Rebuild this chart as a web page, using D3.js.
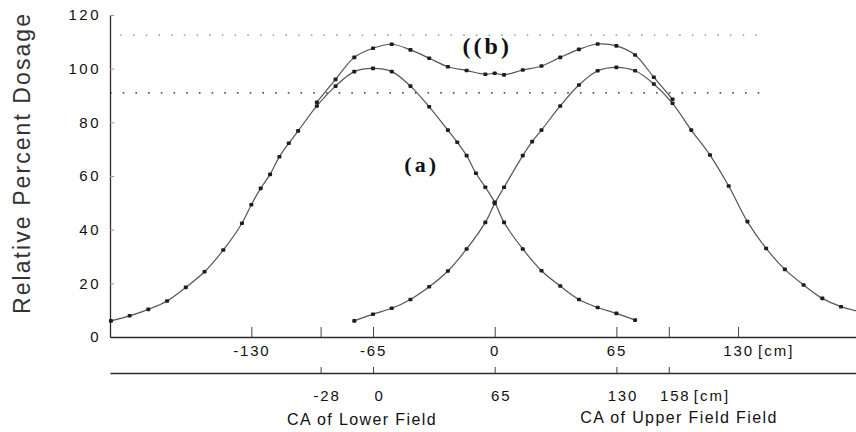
<!DOCTYPE html>
<html><head><meta charset="utf-8">
<script src="https://cdn.jsdelivr.net/npm/d3@7"></script>
<style>body{margin:0;background:#fff} svg{display:block}</style>
</head><body>
<svg id="c" width="856" height="432"></svg>
<script>
// ---- data (cm on the upper scale, relative percent dosage) ----
const lowerFieldX = [-205,-195,-185,-175,-165,-155,-145,-135,-130,-125,-120,-115,-110,-105,-95,-85,-75,-65,-55,-45,-35,-25,-20,-15,-10,-5,0,5,15,25,35,45,55,65,75];
const lowerFieldY = [6.0,7.9,10.3,13.4,18.5,24.3,32.4,42.4,49.3,55.4,60.6,67.2,72.2,76.8,86.1,93.5,98.9,100.1,98.9,93.5,85.8,77.1,72.6,67.6,61.0,55.8,50.2,42.7,32.8,24.7,19.0,14.0,11.0,8.8,6.3];
const upperFieldX = [-75,-65,-55,-45,-35,-25,-15,-5,0,5,15,20,25,35,45,55,65,75,85,95,105,115,125,135,145,155,165,175,185,195];
const upperFieldY = [6.0,8.5,10.7,14.0,18.7,24.6,32.8,42.7,49.8,55.8,67.6,72.8,77.1,86.1,93.9,99.2,100.5,99.2,94.3,87.1,77.1,67.8,56.3,43.0,33.0,25.2,19.4,14.4,11.3,9.4];
const sumX = [-95,-85,-75,-65,-55,-45,-35,-25,-15,-5,0,5,15,25,35,45,55,65,75,85,95];
const sumY = [87.5,96.0,104.2,107.6,109.1,107.0,103.9,100.7,99.3,97.9,98.3,97.7,99.5,101.0,104.2,107.2,109.2,108.5,105.1,96.8,88.6];
const refLineValues = [112.5, 91];
const yTicks = [0,20,40,60,80,100,120];
const upperTickValues = [-130,-93,-65,0,65,93,130];
const upperTickLabels = [-130,-65,0,65,130];
const lowerTickValues = [-28,0,65,130,158];
const yLabel = "Relative Percent Dosage";
const lowerCaption = "CA of Lower Field";
const upperCaption = "CA of Upper Field Field";

// ---- scales ----
const mLeft = 110, mRight = 856, mTop = 15, mBottom = 337, lowerAxisY = 373;
const xDomain = [-205.5, 193];
const x = d3.scaleLinear().domain(xDomain).range([mLeft, mRight]);
const xLow = d3.scaleLinear().domain([xDomain[0] + 65, xDomain[1] + 65]).range([mLeft, mRight]);
const y = d3.scaleLinear().domain([0, 120]).range([mBottom, mTop]);

const svg = d3.select("#c");
const sans = "'Liberation Sans', Arial, sans-serif";
const serif = "'Liberation Serif', 'Times New Roman', serif";
const ink = "#2a2a2a";

// reference dotted lines
const refStarts = [-200, -205.5];
refLineValues.forEach((v, i) => {
  svg.append("line")
    .attr("x1", x(refStarts[i])).attr("x2", x(145.5))
    .attr("y1", y(v)).attr("y2", y(v))
    .attr("stroke", i === 0 ? "#888" : "#555")
    .attr("stroke-width", i === 0 ? 1.4 : 1.8)
    .attr("stroke-dasharray", "1.6,11.1")
    .attr("stroke-linecap", "butt");
});

// y axis
const gy = svg.append("g").attr("transform", `translate(${mLeft},0)`)
  .call(d3.axisLeft(y).tickValues(yTicks).tickFormat(d => String(d))
    .tickSizeInner(-4).tickSizeOuter(0).tickPadding(9));
gy.select(".domain").attr("stroke", ink).attr("stroke-width", 1.3);
gy.selectAll(".tick line").attr("stroke", "#999");
gy.selectAll(".tick text").attr("font-family", sans).attr("font-size", 15)
  .attr("letter-spacing", 2.5).attr("fill", "#111");

// upper x axis
const gx = svg.append("g").attr("transform", `translate(0,${mBottom})`)
  .call(d3.axisBottom(x).tickValues(upperTickValues)
    .tickFormat(d => upperTickLabels.includes(d) ? String(d) : "")
    .tickSizeInner(-10).tickSizeOuter(0).tickPadding(8));
gx.select(".domain").attr("stroke", ink).attr("stroke-width", 1.6);
gx.selectAll(".tick line").attr("stroke", "#444").attr("stroke-width", 1);
gx.selectAll(".tick text").attr("font-family", sans).attr("font-size", 15)
  .attr("letter-spacing", 1.8).attr("fill", "#111");
svg.append("text").attr("x", x(130) + 20).attr("y", mBottom + 19)
  .attr("font-family", sans).attr("font-size", 15).attr("letter-spacing", 2)
  .attr("fill", "#111").text("[cm]");

// lower x axis
const gl = svg.append("g").attr("transform", `translate(0,${lowerAxisY})`)
  .call(d3.axisBottom(xLow).tickValues(lowerTickValues).tickFormat(d => String(d))
    .tickSizeInner(-6).tickSizeOuter(0).tickPadding(17));
gl.select(".domain").attr("stroke", ink).attr("stroke-width", 1.6);
gl.selectAll(".tick line").attr("stroke", "#444");
gl.selectAll(".tick text").attr("font-family", sans).attr("font-size", 15)
  .attr("letter-spacing", 1.8).attr("fill", "#111").attr("dx", 6);
svg.append("text").attr("x", xLow(158) + 25).attr("y", lowerAxisY + 28)
  .attr("font-family", sans).attr("font-size", 15).attr("letter-spacing", 2)
  .attr("fill", "#111").text("[cm]");

svg.append("text").attr("x", 362).attr("y", 425).attr("text-anchor", "middle")
  .attr("font-family", sans).attr("font-size", 16).attr("letter-spacing", 1.4)
  .attr("fill", "#111").text(lowerCaption);
svg.append("text").attr("x", 679).attr("y", 423).attr("text-anchor", "middle")
  .attr("font-family", sans).attr("font-size", 16).attr("letter-spacing", 1.4)
  .attr("fill", "#111").text(upperCaption);

// y label
svg.append("text").attr("transform", `translate(30,164) rotate(-90)`)
  .attr("text-anchor", "middle").attr("font-family", sans).attr("font-size", 23)
  .attr("textLength", 300).attr("lengthAdjust", "spacing")
  .attr("fill", "#333").text(yLabel);

// curves
const line = d3.line().x(d => x(d[0])).y(d => y(d[1])).curve(d3.curveCatmullRom.alpha(0.5));
const series = [
  d3.zip(lowerFieldX, lowerFieldY),
  d3.zip(upperFieldX, upperFieldY),
  d3.zip(sumX, sumY)
];
series.forEach(s => {
  svg.append("path").datum(s).attr("d", line)
    .attr("fill", "none").attr("stroke", "#555").attr("stroke-width", 1.2);
});
series.forEach(s => {
  svg.append("g").selectAll("rect").data(s).join("rect")
    .attr("x", d => x(d[0]) - 2).attr("y", d => y(d[1]) - 1.8)
    .attr("width", 4).attr("height", 3.6).attr("rx", 0.8).attr("fill", "#1e1e1e");
});

// curve labels
svg.append("text").attr("x", x(-39)).attr("y", y(61.5)).attr("text-anchor", "middle")
  .attr("font-family", serif).attr("font-weight", "bold").attr("font-size", 22)
  .attr("letter-spacing", 3).attr("fill", "#111").text("(a)");
svg.append("text").attr("x", x(-4)).attr("y", y(105.5)).attr("text-anchor", "middle")
  .attr("font-family", serif).attr("font-weight", "bold").attr("font-size", 24)
  .attr("letter-spacing", 3).attr("fill", "#111").text("((b)");
</script>
</body></html>
